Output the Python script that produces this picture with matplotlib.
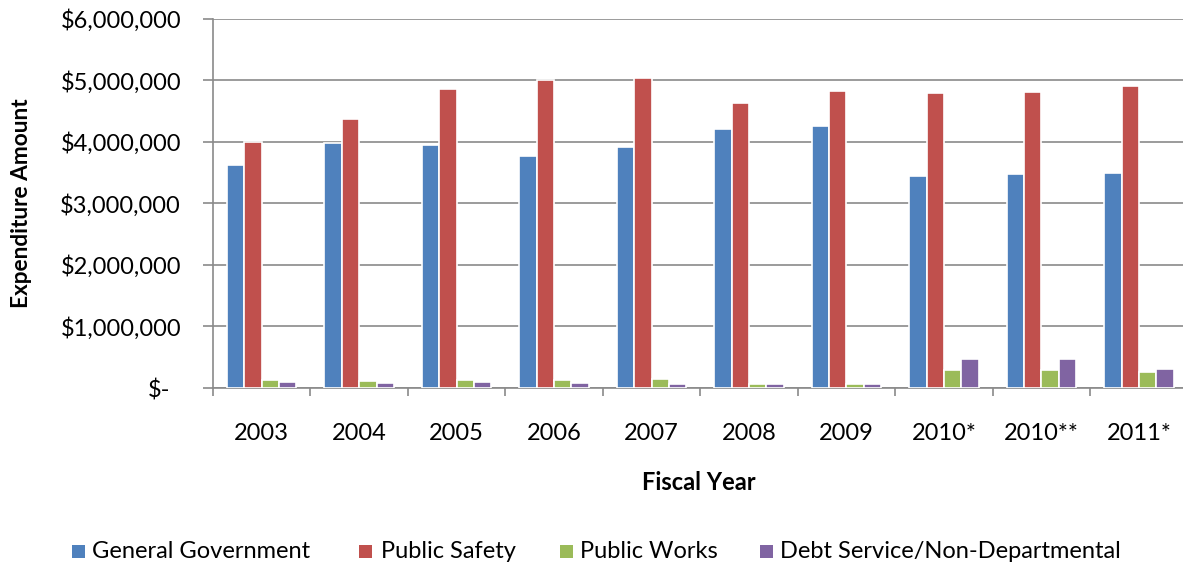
import matplotlib
matplotlib.use("Agg")
import matplotlib.pyplot as plt
from matplotlib.patches import Rectangle
from matplotlib.transforms import ScaledTranslation
import numpy as np

categories = ["2003", "2004", "2005", "2006", "2007", "2008", "2009", "2010*", "2010**", "2011*"]
series_names = ["General Government", "Public Safety", "Public Works", "Debt Service/Non-Departmental"]
general_government = [3620000, 3985000, 3940000, 3760000, 3910000, 4210000, 4250000, 3450000, 3470000, 3485000]
public_safety = [4000000, 4370000, 4860000, 5000000, 5030000, 4625000, 4830000, 4790000, 4800000, 4910000]
public_works = [130000, 115000, 130000, 130000, 145000, 70000, 65000, 300000, 300000, 255000]
debt_service = [95000, 85000, 100000, 75000, 70000, 70000, 70000, 466000, 466000, 310000]
yticks = [0, 1000000, 2000000, 3000000, 4000000, 5000000, 6000000]
ytick_labels = ["$-", "$1,000,000", "$2,000,000", "$3,000,000", "$4,000,000", "$5,000,000", "$6,000,000"]
colors = ["#4F81BD", "#C0504D", "#9BBB59", "#8064A2"]

plt.rcParams['font.family'] = ['Lato', 'DejaVu Sans']
W, H, DPI = 1183, 568, 100
fig = plt.figure(figsize=(W / DPI, H / DPI), dpi=DPI)
ax = fig.add_axes([213 / W, 1 - 388 / H, (1187.6 - 213) / W, (388 - 18.5) / H])

series = [general_government, public_safety, public_works, debt_service]
x = np.arange(len(categories))
bw = 0.178
for i, (vals, c) in enumerate(zip(series, colors)):
    ax.bar(x + (i - 1.5) * bw, vals, width=bw, color=c, edgecolor="white",
           linewidth=1.2, zorder=3)

ax.set_xlim(-0.5, len(categories) - 0.5)
ax.set_ylim(0, 6000000)
ax.set_yticks(yticks)
ax.set_yticklabels(ytick_labels)
ax.yaxis.grid(True, color="#8a8a8a", linewidth=1.2, zorder=0)
ax.set_axisbelow(True)

ax.set_xticks(x)
ax.set_xticklabels(categories)
ax.set_xticks(np.arange(-0.5, len(categories) + 0.5, 1), minor=True)
ax.tick_params(axis="x", which="major", length=0, pad=25, labelsize=17)
ax.tick_params(axis="x", which="minor", length=6, width=1.2, color="#8a8a8a", direction="out")
ax.tick_params(axis="y", length=7, width=1.2, color="#8a8a8a", direction="out", pad=16, labelsize=17)

for s in ["top", "right"]:
    ax.spines[s].set_visible(False)
for s in ["left", "bottom"]:
    ax.spines[s].set_color("#8a8a8a")
    ax.spines[s].set_linewidth(1.2)

# shift "$-" label as in reference
lbl0 = ax.get_yticklabels()[0]
lbl0.set_transform(lbl0.get_transform() + ScaledTranslation(-11 / DPI, 0, fig.dpi_scale_trans))

fig.text(699 / W, 1 - 483 / H, "Fiscal Year", ha="center", va="center", fontsize=17, fontweight="bold")
fig.text(22 / W, 1 - 203 / H, "Expenditure Amount", ha="center", va="center", rotation=90,
         fontsize=16.3, fontweight="bold")

# legend
sq_x = [72, 359, 560, 760]
tx_x = [92, 381, 580, 780]
ly = 551
sq = 13
for c, name, sx, tx in zip(colors, series_names, sq_x, tx_x):
    fig.patches.append(Rectangle((sx / W, 1 - (ly + sq / 2) / H), sq / W, sq / H,
                                 transform=fig.transFigure, facecolor=c, edgecolor="none"))
    fig.text(tx / W, 1 - ly / H, name, ha="left", va="center", fontsize=17)

fig.savefig("out.png", dpi=DPI)
